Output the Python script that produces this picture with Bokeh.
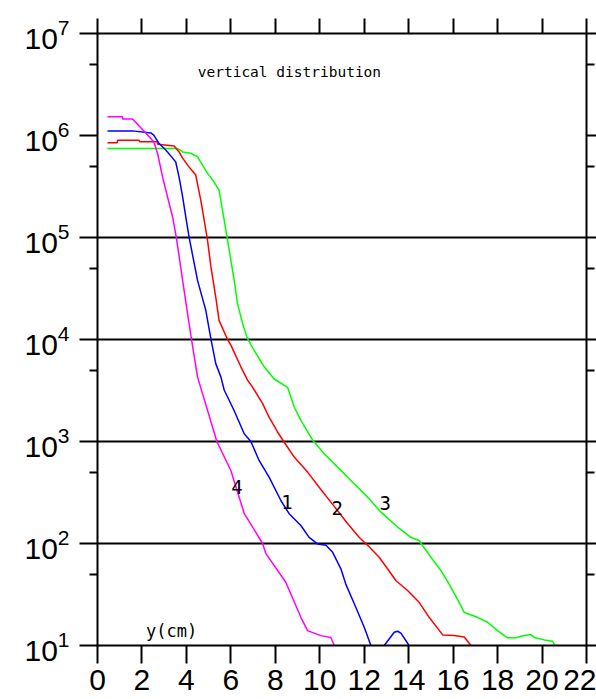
import numpy as np
from bokeh.plotting import figure
from bokeh.models import LinearAxis, LogAxis, FixedTicker, Range1d, ColumnDataSource, LogTickFormatter
from bokeh.embed import file_html
from bokeh.resources import INLINE
from bokeh.core.properties import value

nan = np.nan

# ---- data ----
magenta_x = [0.45, 1.12, 1.13, 1.58, 2.17, 2.53, 2.70, 2.93, 3.15, 3.38, 3.56, 3.83, 4.05, 4.23,
             4.50, 5.37, 6.00, 6.60, 7.43, 7.57, 8.47, 9.15, 9.45, 10.05, 10.50, 10.65]
magenta_y = [1.53e6, 1.53e6, 1.45e6, 1.45e6, 1.06e6, 8.7e5, 6.7e5, 3.9e5, 2.5e5, 1.59e5, 9.6e4,
             3.8e4, 1.8e4, 1.0e4, 4.3e3, 1.0e3, 520, 197, 100, 80, 41.7, 18.9, 14, 12.5, 12, 10]

blue_x = [0.45, 1.58, 2.40, 2.53, 2.76, 3.07, 3.38, 3.52, 3.67, 3.83, 3.97, 4.12, 4.50, 4.87,
          5.10, 5.32, 5.55, 5.70, 6.15, 6.60, 6.90, 7.27, 7.72, 8.25, 8.62, 9.15, 9.52, 9.90,
          10.28, 10.58, 10.95, 11.17, 11.62, 12.00, 12.30, nan, 12.90, 13.35, 13.50, 13.65, 14.02]
blue_y = [1.11e6, 1.11e6, 1.06e6, 1.01e6, 8.4e5, 7.2e5, 6.0e5, 5.5e5, 3.9e5, 2.5e5, 1.6e5,
          1.01e5, 3.8e4, 1.94e4, 1.02e4, 5.8e3, 4.3e3, 3.2e3, 2.0e3, 1.19e3, 1.0e3, 652, 448,
          264, 196, 150, 115, 99, 96, 82, 56.5, 40, 23.7, 15.1, 10, nan, 10, 13.5, 13.8, 13.2, 10]

red_x = [0.45, 0.89, 0.90, 1.87, 1.90, 2.70, 2.71, 3.45, 3.67, 3.83, 4.12, 4.42, 4.53, 4.65,
         4.80, 4.95, 5.10, 5.32, 5.47, 5.85, 6.00, 6.45, 6.75, 6.98, 7.43, 7.72, 8.10, 8.38,
         8.85, 9.45, 10.05, 10.65, 11.25, 11.77, 12.22, 12.67, 13.05, 13.42, 13.95, 14.47,
         14.92, 15.53, 16.05, 16.50, 16.65, 16.80]
red_y = [8.5e5, 8.5e5, 9.0e5, 9.0e5, 8.7e5, 8.7e5, 8.2e5, 7.9e5, 6.9e5, 6.0e5, 4.9e5, 4.1e5,
         3.1e5, 2.3e5, 1.48e5, 9.4e4, 5.2e4, 2.6e4, 1.54e4, 1.0e4, 8.8e3, 5.4e3, 4.0e3, 3.4e3,
         2.35e3, 1.73e3, 1.24e3, 1.0e3, 703, 501, 339, 231, 157, 115, 93, 73.4, 56.5, 43.4,
         34.6, 26.5, 18.9, 12.7, 12.5, 12.1, 11, 10]

green_x = [0.45, 3.60, 3.83, 4.20, 4.50, 4.73, 4.95, 5.25, 5.47, 5.55, 5.70, 5.85, 6.00, 6.15,
           6.30, 6.53, 6.75, 7.05, 7.50, 7.95, 8.55, 8.85, 9.15, 9.68, 10.20, 10.80, 11.40,
           12.15, 12.75, 13.50, 14.10, 14.47, 14.63, 15.00, 15.45, 15.82, 16.27, 16.50, 17.10,
           17.55, 18.00, 18.45, 18.83, 19.05, 19.50, 19.65, 20.10, 20.48, 20.58]
green_y = [7.47e5, 7.47e5, 6.9e5, 6.7e5, 6.2e5, 5.1e5, 4.25e5, 3.5e5, 2.9e5, 2.3e5, 1.48e5,
           9.4e4, 6.0e4, 3.8e4, 2.25e4, 1.43e4, 1.02e4, 7.8e3, 5.4e3, 4.1e3, 3.4e3, 2.18e3,
           1.61e3, 1.03e3, 759, 561, 415, 285, 203, 145, 115, 107, 95, 73.4, 54.3, 40, 26.5,
           21.1, 18.9, 16.9, 14, 11.9, 11.9, 12.3, 12.8, 12.0, 11.35, 11.0, 10]

curve_label_text = ["4", "1", "2", "3"]
curve_label_x = [6.27, 8.52, 10.79, 12.95]
curve_label_y = [362, 258, 223, 250]

x_tick_values = [0, 2, 4, 6, 8, 10, 12, 14, 16, 18, 20, 22]
y_exponents = [1, 2, 3, 4, 5, 6, 7]
y_minor_ticks = [5e1, 5e2, 5e3, 5e4, 5e5, 5e6]
y_grid_values = [1e2, 1e3, 1e4, 1e5]

title_text = "vertical distribution"
title_pos = (4.51, 4.2e6)
xlabel_text = "y(cm)"
xlabel_pos = (2.18, 14.0)

# ---- figure ----
p = figure(width=596, height=699, y_axis_type="log",
           x_range=Range1d(0, 22), y_range=Range1d(10, 1e7),
           output_backend="svg", toolbar_location=None,
           min_border_left=97, min_border_right=10, min_border_top=33, min_border_bottom=54)
p.background_fill_color = "white"
p.border_fill_color = "white"
p.outline_line_color = None

y_major = [10.0 ** k for k in y_exponents]


def style_axis(ax, tick_out, minor_out=0, labels=False, font_size="1px", standoff=0):
    ax.axis_line_color = "black"
    ax.axis_line_width = 2
    ax.major_tick_line_color = "black"
    ax.major_tick_line_width = 2
    ax.major_tick_in = 0
    ax.major_tick_out = tick_out
    ax.minor_tick_line_color = "black" if minor_out else None
    ax.minor_tick_line_width = 2
    ax.minor_tick_in = 0
    ax.minor_tick_out = minor_out
    ax.major_label_text_font = "Liberation Sans"
    ax.major_label_text_font_size = font_size
    ax.major_label_standoff = standoff
    ax.major_label_text_color = "black" if labels else None


# bottom & top
bx = p.xaxis[0]
bx.ticker = FixedTicker(ticks=x_tick_values)
style_axis(bx, 18, labels=True, font_size="30px", standoff=6)
tx = LinearAxis(ticker=FixedTicker(ticks=x_tick_values))
style_axis(tx, 15)
p.add_layout(tx, "above")

# left & right
ly = p.yaxis[0]
ly.ticker = FixedTicker(ticks=y_major, minor_ticks=y_minor_ticks)
ly.formatter = LogTickFormatter()
style_axis(ly, 18, 8, labels=True, font_size="30px", standoff=10)
ry = LogAxis(ticker=FixedTicker(ticks=y_major, minor_ticks=y_minor_ticks))
style_axis(ry, 10, 8)
p.add_layout(ry, "right")

p.xgrid.visible = False
p.ygrid.ticker = FixedTicker(ticks=y_grid_values)
p.ygrid.grid_line_color = "black"
p.ygrid.grid_line_width = 2
p.ygrid.grid_line_alpha = 1

# curves
p.line(green_x, green_y, line_color="#00ff00", line_width=1.5)
p.line(red_x, red_y, line_color="#ff0000", line_width=1.5)
p.line(blue_x, blue_y, line_color="#0000ff", line_width=1.5)
p.line(magenta_x, magenta_y, line_color="#ff00ff", line_width=1.5)

mono = value("DejaVu Sans Mono")
src = ColumnDataSource(dict(x=curve_label_x, y=curve_label_y, t=curve_label_text))
p.text(x="x", y="y", text="t", source=src, text_font=mono, text_font_size="19px",
       text_align="center", text_baseline="middle", text_color="black")
p.text(x=[title_pos[0]], y=[title_pos[1]], text=[title_text], text_font=mono,
       text_font_size="14.5px", text_align="left", text_baseline="alphabetic", text_color="black")
p.text(x=[xlabel_pos[0]], y=[xlabel_pos[1]], text=[xlabel_text], text_font=mono,
       text_font_size="17px", text_align="left", text_baseline="alphabetic", text_color="black")

open("out.html", "w").write(file_html(p, INLINE))
